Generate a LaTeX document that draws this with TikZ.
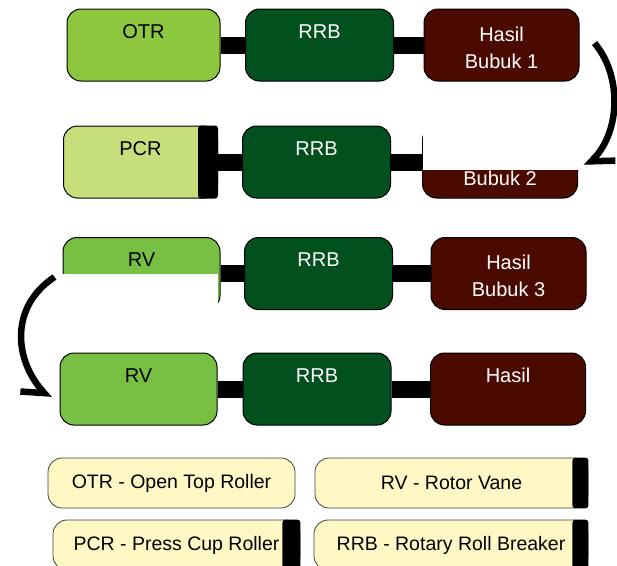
\documentclass[tikz,border=0pt]{standalone}
\usepackage{fontspec}
\setmainfont{Liberation Sans}
\usepackage{xcolor}
\usepackage{tikz}
\usetikzlibrary{positioning, calc, arrows.meta}
\definecolor{hijauotr}{HTML}{8DC63F}
\definecolor{hijaupcr}{HTML}{C6DF7C}
\definecolor{hijaurv}{HTML}{77C043}
\definecolor{hijaurrb}{HTML}{03501F}
\definecolor{coklat}{HTML}{4B0A00}
\definecolor{krem}{HTML}{FFF8C5}
\tikzstyle{mesin} = [rectangle, rounded corners=14pt, minimum height=72pt, text centered, align=center, draw=black, line width=1pt, font=\fontsize{20}{27}\selectfont]
\tikzstyle{otr} = [mesin, minimum width=153pt, fill=hijauotr]
\tikzstyle{pcr} = [mesin, minimum width=154pt, fill=hijaupcr]
\tikzstyle{rv} = [mesin, minimum width=157pt, fill=hijaurv]
\tikzstyle{rrb} = [mesin, minimum width=148pt, fill=hijaurrb, text=white]
\tikzstyle{hasil} = [mesin, minimum width=155pt, fill=coklat, text=white]
\tikzstyle{ket} = [rectangle, rounded corners=14pt, minimum height=50pt, text centered, draw=black!75, line width=0.8pt, fill=krem, font=\fontsize{19.5}{22}\selectfont]
\tikzstyle{ujung} = [black, rounded corners=3pt]
\tikzstyle{batang} = [line width=17pt]
\tikzstyle{putar} = [line width=6.5pt]
\newcommand{\tinggi}{\rule{0pt}{20pt}}

\begin{document}
\begin{tikzpicture}[x=1pt, y=-1pt, node distance=176pt]
	\useasboundingbox (0,0) rectangle (617,565);
	
	%baris 1
	\node (otr) [otr] at (143.5,45) {OTR\\\phantom{X}};
	\node (rrb1) [rrb, right of=otr] {RRB\\\phantom{X}};
	\node (hasil1) [hasil, right of=rrb1, xshift=6pt] {\tinggi Hasil\\Bubuk 1};
	%baris 2
	\node (pcr) [pcr] at (140.5,162) {PCR\\\phantom{X}};
	\node (rrb2) [rrb, right of=pcr] {RRB\\\phantom{X}};
	\node (hasil2) [hasil, right of=rrb2, xshift=7.5pt] {\tinggi Hasil\\Bubuk 2};
	%baris 3
	\node (rv1) [rv] at (141.5,273.5) {RV\\\phantom{X}};
	\node (rrb3) [rrb, right of=rv1, xshift=1pt] {RRB\\\phantom{X}};
	\node (hasil3) [hasil, right of=rrb3, xshift=14pt] {\tinggi Hasil\\Bubuk 3};
	%baris 4
	\node (rv2) [rv] at (138.5,389) {RV\\\phantom{X}};
	\node (rrb4) [rrb, right of=rv2, xshift=2.5pt] {RRB\\\phantom{X}};
	\node (hasil4) [hasil, right of=rrb4, xshift=15pt] {Hasil\\\phantom{X}};
	
	%keterangan
	\node (ketotr) [ket, minimum width=247pt] at (171.5,483) {OTR - Open Top Roller};
	\node (ketpcr) [ket, minimum width=247pt] at (176.5,545) {PCR - Press Cup Roller};
	\node (ketrv) [ket, minimum width=273pt] at (451.5,483) {RV - Rotor Vane};
	\node (ketrrb) [ket, minimum width=274pt] at (451,545) {RRB - Rotary Roll Breaker};
	
	%ujung hitam
	\fill [ujung]($(pcr.north east)+(-20,0)$) rectangle (pcr.south east);
	\fill [ujung]($(ketpcr.north east)+(-18,0)$) rectangle (ketpcr.south east);
	\fill [ujung]($(ketrv.north east)+(-16,0)$) rectangle (ketrv.south east);
	\fill [ujung]($(ketrrb.north east)+(-16,0)$) rectangle (ketrrb.south east);
	
	%penghubung
	\draw [batang](otr) -- (rrb1);
	\draw [batang](rrb1) -- (hasil1);
	\draw [batang](pcr) -- (rrb2);
	\draw [batang](rrb2) -- (hasil2);
	\draw [batang](rv1) -- (rrb3);
	\draw [batang](rrb3) -- (hasil3);
	\draw [batang](rv2) -- (rrb4);
	\draw [batang](rrb4) -- (hasil4);
	
	%bagian yang tertutup
	\fill [white]($(hasil2.north west)+(1,-10)$) rectangle ($(hasil2.east)+(5,8)$);
	\fill [white]($(rv1.west)+(-6,0)$) rectangle ($(rv1.south east)+(-2.5,40)$);
	
	%panah putar
	\draw [putar, -{Straight Barb[harpoon, angle=90:24pt]}]($(hasil1.east)+(15,-2)$) .. controls +(27,32) and +(35,-37) .. ($(hasil2.east)+(8,5)$);
	\draw [putar, -{Straight Barb[harpoon, swap, angle=90:24pt]}]($(rv1.west)+(-8,3.5)$) .. controls +(-45,30) and +(-35,-40) .. ($(rv2.west)+(-10,10)$);
	
\end{tikzpicture}
\end{document}
